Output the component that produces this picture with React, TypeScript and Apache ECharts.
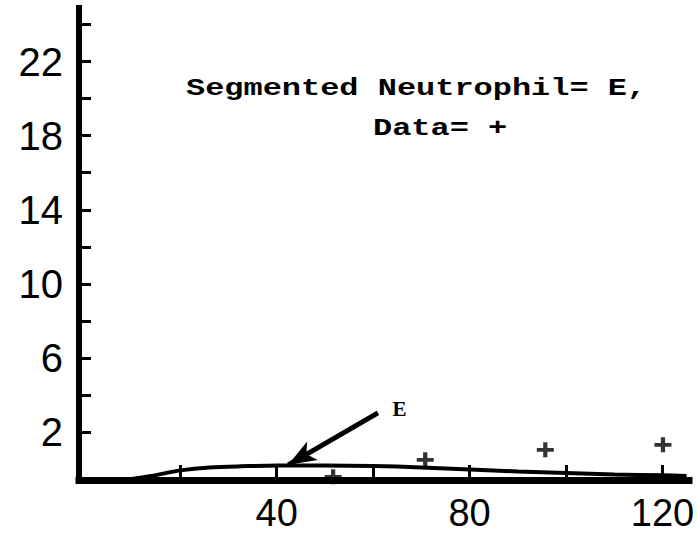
import React, { useEffect, useRef } from "react";
import * as echarts from "echarts";

// Model curve "E" (segmented neutrophil)
const curveX = [10, 14, 20, 26, 34, 40, 50, 60, 70, 80, 90, 100, 110, 120, 125];
const curveY = [-0.54, -0.38, -0.08, 0.08, 0.15, 0.19, 0.19, 0.16, 0.08, -0.03, -0.14, -0.22, -0.3, -0.35, -0.38];

// Observed data "+"
const dataX = [51.7, 70.8, 95.7, 120.1];
const dataY = [-0.43, 0.49, 1.03, 1.3];

// Axis tick and label values
const yTickValues = [2, 4, 6, 8, 10, 12, 14, 16, 18, 20, 22, 24];
const yLabelValues = [2, 6, 10, 14, 18, 22];
const xTickValues = [20, 40, 60, 80, 100, 120];
const xLabelValues = [40, 80, 120];

// Arrow pointing at the curve (data coords)
const arrowFrom = [61.0, 3.03];
const arrowTo = [42.4, 0.22];

const titleLine1 = "Segmented Neutrophil= E,";
const titleLine2 = "Data= +";
const curveLabel = "E";

const PLUS = "path://M6,0H10V6H16V10H10V16H6V10H0V6H6Z";
const NUM_FONT = "'Liberation Sans Narrow', 'Liberation Sans', 'Roboto', sans-serif";
const MONO = "'Liberation Mono', 'DejaVu Sans Mono', monospace";

export default function App() {
  const ref = useRef<HTMLDivElement>(null);
  useEffect(() => {
    if (!ref.current) return;
    const chart = echarts.init(ref.current, undefined, { renderer: "svg" });
    const option = {
      animation: false,
      backgroundColor: "#ffffff",
      grid: { left: 79, right: 10, top: 8, bottom: 57, containLabel: false },
      xAxis: {
        type: "value",
        min: -1,
        max: 125.5,
        splitLine: { show: false },
        axisLine: { show: true, onZero: false, lineStyle: { color: "#000", width: 7, cap: "square" } },
        axisTick: {
          show: true,
          inside: true,
          length: 15,
          customValues: xTickValues,
          lineStyle: { color: "#000", width: 3 },
        },
        axisLabel: {
          show: true,
          customValues: xLabelValues,
          margin: 14,
          color: "#000",
          fontFamily: NUM_FONT,
          fontSize: 38,
          lineHeight: 38,
        },
      },
      yAxis: {
        type: "value",
        min: -0.6,
        max: 24.9,
        splitLine: { show: false },
        axisLine: { show: true, onZero: false, lineStyle: { color: "#000", width: 6, cap: "square" } },
        axisTick: {
          show: true,
          inside: true,
          length: 12,
          customValues: yTickValues,
          lineStyle: { color: "#000", width: 3 },
        },
        axisLabel: {
          show: true,
          customValues: yLabelValues,
          margin: 16,
          color: "#000",
          fontFamily: NUM_FONT,
          fontSize: 40,
        },
      },
      series: [
        {
          name: "Segmented Neutrophil",
          type: "line",
          smooth: 0.3,
          showSymbol: false,
          symbol: "none",
          clip: false,
          lineStyle: { color: "#000", width: 4 },
          data: curveX.map((x, i) => [x, curveY[i]]),
          markLine: {
            silent: true,
            symbol: ["none", "arrow"],
            symbolSize: [16, 28],
            label: { show: false },
            lineStyle: { color: "#000", width: 5, type: "solid" },
            data: [[{ coord: arrowFrom }, { coord: arrowTo }]],
          },
        },
        {
          name: "Data",
          type: "scatter",
          symbol: PLUS,
          symbolSize: [17, 15],
          clip: false,
          itemStyle: { color: "#000" },
          data: dataX.map((x, i) => [x, dataY[i]]),
        },
      ],
      graphic: [
        {
          type: "text",
          x: 186,
          y: 89,
          scaleX: 1.39,
          style: {
            text: titleLine1,
            x: 0,
            y: 0,
            fill: "#000",
            font: `bold 23px ${MONO}`,
            align: "left",
            verticalAlign: "middle",
          },
        },
        {
          type: "text",
          x: 373,
          y: 129,
          scaleX: 1.39,
          style: {
            text: titleLine2,
            x: 0,
            y: 0,
            fill: "#000",
            font: `bold 23px ${MONO}`,
            align: "left",
            verticalAlign: "middle",
          },
        },
        {
          type: "text",
          x: 399.5,
          y: 409,
          style: {
            text: curveLabel,
            x: 0,
            y: 0,
            fill: "#000",
            font: `bold 21px 'Liberation Serif', 'DejaVu Serif', serif`,
            align: "center",
            verticalAlign: "middle",
          },
        },
      ],
    };
    chart.setOption(option as any);
    return () => chart.dispose();
  }, []);
  return <div ref={ref} style={{ width: 699, height: 537, position: "absolute", left: 0, top: 0 }} />;
}
